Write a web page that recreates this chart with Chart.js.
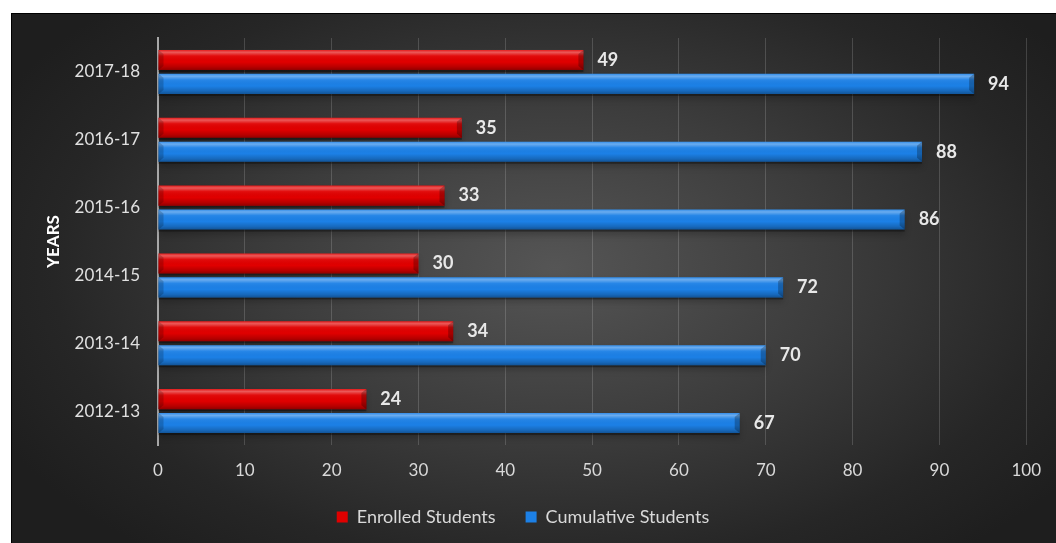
<!DOCTYPE html>
<html>
<head>
<meta charset="utf-8">
<script src="https://cdn.jsdelivr.net/npm/chart.js@4.4.1/dist/chart.umd.min.js"></script>
<style>
    html, body { margin: 0; background: #fff; }
    #wrap {
        position: absolute; left: 11px; top: 13px;
        width: 1044px; height: 529px;
        border-top: 1px solid #000; border-left: 1px solid #000;
        background: radial-gradient(ellipse 60% 70% at 52% 48%, #555 0%, #3c3c3c 45%, #262626 80%, #1e1e1e 100%);
    }
    canvas { display: block; }
</style>
</head>
<body>
<div id="wrap"><canvas id="studentsChart" width="1044" height="529"></canvas></div>
<script>
// Data
const years = ['2017-18', '2016-17', '2015-16', '2014-15', '2013-14', '2012-13'];
const enrolled = [49, 35, 33, 30, 34, 24];
const cumulative = [94, 88, 86, 72, 70, 67];
const xTicks = [0, 10, 20, 30, 40, 50, 60, 70, 80, 90, 100];

const FONT = 'Lato, "Open Sans", sans-serif';

// 3D-ish shading on top of each bar
const bevelPlugin = {
    id: 'bevel',
    beforeDatasetsDraw(chart) {
        const ctx = chart.ctx;
        ctx.save();
        chart.data.datasets.forEach((ds, i) => {
            chart.getDatasetMeta(i).data.forEach(bar => {
                const top = bar.y - bar.height / 2;
                ctx.fillStyle = 'rgba(0,0,0,0.35)';
                ctx.shadowColor = 'rgba(0,0,0,0.6)';
                ctx.shadowBlur = 6;
                ctx.shadowOffsetY = 3;
                ctx.fillRect(bar.base, top + 2, bar.x - bar.base, bar.height);
            });
        });
        ctx.restore();
    },
    afterDatasetsDraw(chart) {
        const ctx = chart.ctx;
        ctx.save();
        chart.data.datasets.forEach((ds, i) => {
            chart.getDatasetMeta(i).data.forEach(bar => {
                const top = bar.y - bar.height / 2;
                const h = bar.height;
                const w = bar.x - bar.base;
                const g = ctx.createLinearGradient(0, top, 0, top + h);
                g.addColorStop(0, 'rgba(255,255,255,0.10)');
                g.addColorStop(0.12, 'rgba(255,255,255,0.35)');
                g.addColorStop(0.3, 'rgba(255,255,255,0.05)');
                g.addColorStop(0.6, 'rgba(0,0,0,0)');
                g.addColorStop(0.85, 'rgba(0,0,0,0.18)');
                g.addColorStop(1, 'rgba(0,0,0,0.35)');
                ctx.fillStyle = g;
                ctx.fillRect(bar.base, top, w, h);
                // bevelled ends
                ctx.fillStyle = 'rgba(0,0,0,0.25)';
                ctx.beginPath();
                ctx.moveTo(bar.x - 5, top + 4);
                ctx.lineTo(bar.x, top);
                ctx.lineTo(bar.x, top + h);
                ctx.lineTo(bar.x - 5, top + h - 4);
                ctx.closePath();
                ctx.fill();
                ctx.fillStyle = 'rgba(0,0,0,0.18)';
                ctx.beginPath();
                ctx.moveTo(bar.base, top);
                ctx.lineTo(bar.base + 5, top + 4);
                ctx.lineTo(bar.base + 5, top + h - 4);
                ctx.lineTo(bar.base, top + h);
                ctx.closePath();
                ctx.fill();
            });
        });
        ctx.restore();
    }
};

// Value labels at the end of bars
const valueLabels = {
    id: 'valueLabels',
    afterDatasetsDraw(chart) {
        const ctx = chart.ctx;
        ctx.save();
        ctx.font = 'bold 18px ' + FONT;
        ctx.fillStyle = '#e8e8e8';
        ctx.textAlign = 'left';
        ctx.textBaseline = 'middle';
        chart.data.datasets.forEach((ds, i) => {
            chart.getDatasetMeta(i).data.forEach((bar, j) => {
                ctx.fillText(ds.data[j], bar.x + 14, bar.y);
            });
        });
        ctx.restore();
    }
};

const ctx = document.getElementById('studentsChart').getContext('2d');
new Chart(ctx, {
    type: 'bar',
    data: {
        labels: years,
        datasets: [{
            label: 'Enrolled Students',
            data: enrolled,
            backgroundColor: '#e00000',
            categoryPercentage: 0.706,
            barPercentage: 0.84
        }, {
            label: 'Cumulative Students',
            data: cumulative,
            backgroundColor: '#1c80e6',
            categoryPercentage: 0.706,
            barPercentage: 0.84
        }]
    },
    options: {
        indexAxis: 'y',
        responsive: false,
        animation: false,
        layout: { padding: { top: 24, right: 22, left: 0, bottom: 7 } },
        scales: {
            x: {
                min: 0,
                max: 100,
                afterBuildTicks: scale => { scale.ticks = xTicks.map(v => ({ value: v })); },
                afterFit: scale => { scale.height = 33; },
                grid: { color: 'rgba(255,255,255,0.16)', drawTicks: false },
                border: { display: false },
                ticks: { color: '#d9d9d9', font: { family: FONT, size: 17 }, padding: 15 }
            },
            y: {
                afterFit: scale => {
                    scale.width = 146;
                    scale.paddingTop = 0;
                    scale.paddingBottom = 0;
                },
                grid: { display: false, drawTicks: false },
                border: { display: true, color: '#a8a8a8', width: 2 },
                ticks: { color: '#e0e0e0', font: { family: FONT, size: 17 }, padding: 18 },
                title: {
                    display: true,
                    text: 'YEARS',
                    color: '#ffffff',
                    font: { family: FONT, size: 17, weight: 'bold' },
                    padding: { top: 31, bottom: 0 }
                }
            }
        },
        plugins: {
            legend: {
                position: 'bottom',
                labels: {
                    color: '#d9d9d9',
                    font: { family: FONT, size: 18 },
                    boxWidth: 11,
                    boxHeight: 11,
                    padding: 30
                }
            },
            tooltip: { enabled: false }
        }
    },
    plugins: [bevelPlugin, valueLabels]
});
</script>
</body>
</html>
